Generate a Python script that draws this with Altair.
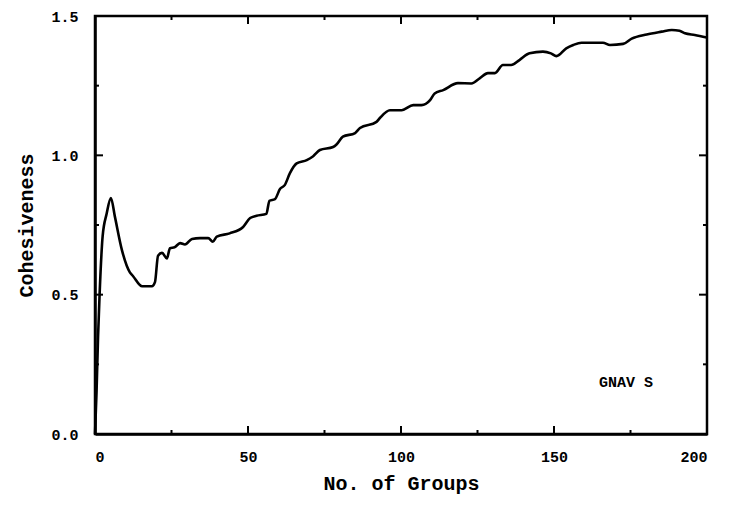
import altair as alt
import pandas as pd

groups = [0, 0.5, 1, 1.5, 2.5, 3.8, 5.2, 6.5, 8.8, 11.4, 12.4, 15.4, 18.6, 19.6, 20.6,
          21.9, 23.5, 24.5, 26, 27.8, 29.4, 31.7, 34.3, 37, 38.5, 39.8, 44, 48.4, 50.7, 52.8,
          56, 57, 58.8, 60.5, 62, 63.7, 65.9, 69.2, 71.3, 73.5, 77.8, 79, 81, 85, 86.6,
          92, 93.1, 96.4, 100.2, 104, 106.7, 109.5, 111, 113.8, 118.6, 123, 125.8, 128.4, 130.7, 133.3,
          136, 138.7, 142, 146.4, 149, 150.8, 154, 156.3, 159, 166, 168.3, 172.6, 175.4, 180.3, 185.2,
          188.5, 191, 192.8, 196, 199.9]
cohesiveness = [0, 0.15, 0.35, 0.5, 0.71, 0.79, 0.847, 0.78, 0.66, 0.58, 0.567, 0.53, 0.53, 0.545, 0.64,
                0.65, 0.63, 0.667, 0.67, 0.685, 0.68, 0.70, 0.703, 0.703, 0.69, 0.708, 0.72, 0.743, 0.775, 0.783,
                0.79, 0.837, 0.843, 0.88, 0.893, 0.936, 0.971, 0.983, 0.997, 1.019, 1.03, 1.04, 1.067, 1.08, 1.098,
                1.12, 1.134, 1.162, 1.162, 1.18, 1.18, 1.198, 1.222, 1.234, 1.259, 1.258, 1.277, 1.295, 1.295, 1.324,
                1.324, 1.342, 1.366, 1.372, 1.366, 1.356, 1.384, 1.396, 1.404, 1.404, 1.396, 1.40, 1.419, 1.434, 1.444,
                1.45, 1.447, 1.438, 1.432, 1.423]

x_major = [0, 50, 100, 150, 200]
x_minor = [25, 75, 125, 175]
y_major = [0.0, 0.5, 1.0, 1.5]
y_minor = [0.25, 0.75, 1.25]

annot_x = [173.5]
annot_y = [0.187]
annot_text = ["GNAV S"]

W, H = 612, 418
FONT = "Liberation Mono"

df = pd.DataFrame({"x": groups, "y": cohesiveness})
xs = alt.Scale(domain=[0, 200], nice=False)
ys = alt.Scale(domain=[0, 1.5], nice=False)

line = alt.Chart(df).mark_line(color="black", strokeWidth=2.6, interpolate="monotone").encode(
    x=alt.X("x:Q", scale=xs, title="No. of Groups",
            axis=alt.Axis(values=x_major, ticks=False, format="d", labelPadding=15,
                          titlePadding=9, grid=False)),
    y=alt.Y("y:Q", scale=ys, title="Cohesiveness",
            axis=alt.Axis(values=y_major, ticks=False, format=".1f", labelPadding=17,
                          titlePadding=14, grid=False)),
)

def vticks(vals, L):
    d = pd.DataFrame({"x": vals})
    bottom = alt.Chart(d).mark_rule(color="black", strokeWidth=2).encode(
        x=alt.X("x:Q", scale=xs), y=alt.value(H), y2=alt.value(H - L))
    top = alt.Chart(d).mark_rule(color="black", strokeWidth=2).encode(
        x=alt.X("x:Q", scale=xs), y=alt.value(0), y2=alt.value(L))
    return [bottom, top]

def hticks(vals, L):
    d = pd.DataFrame({"y": vals})
    left = alt.Chart(d).mark_rule(color="black", strokeWidth=2).encode(
        y=alt.Y("y:Q", scale=ys), x=alt.value(0), x2=alt.value(L))
    right = alt.Chart(d).mark_rule(color="black", strokeWidth=2).encode(
        y=alt.Y("y:Q", scale=ys), x=alt.value(W), x2=alt.value(W - L))
    return [left, right]

annot = alt.Chart(pd.DataFrame({"x": annot_x, "y": annot_y, "t": annot_text})).mark_text(
    font=FONT, fontWeight="bold", fontSize=15, color="black"
).encode(x=alt.X("x:Q", scale=xs), y=alt.Y("y:Q", scale=ys), text="t:N")

layers = [line] + vticks(x_major, 8) + vticks(x_minor, 4) + hticks(y_major, 8) + hticks(y_minor, 4) + [annot]

chart = alt.layer(*layers).properties(
    width=W, height=H,
    autosize=alt.AutoSizeParams(type="none"),
    padding={"left": 87, "top": 8, "right": 20, "bottom": 64},
).configure_view(
    stroke="black", strokeWidth=2.5
).configure_axis(
    domainColor="black", domainWidth=2.5,
    labelFont=FONT, labelFontWeight="bold", labelFontSize=15, labelColor="black",
    titleFont=FONT, titleFontWeight="bold", titleFontSize=20, titleColor="black",
)

chart.save("out.html", embed_options={"renderer": "svg", "actions": False})
